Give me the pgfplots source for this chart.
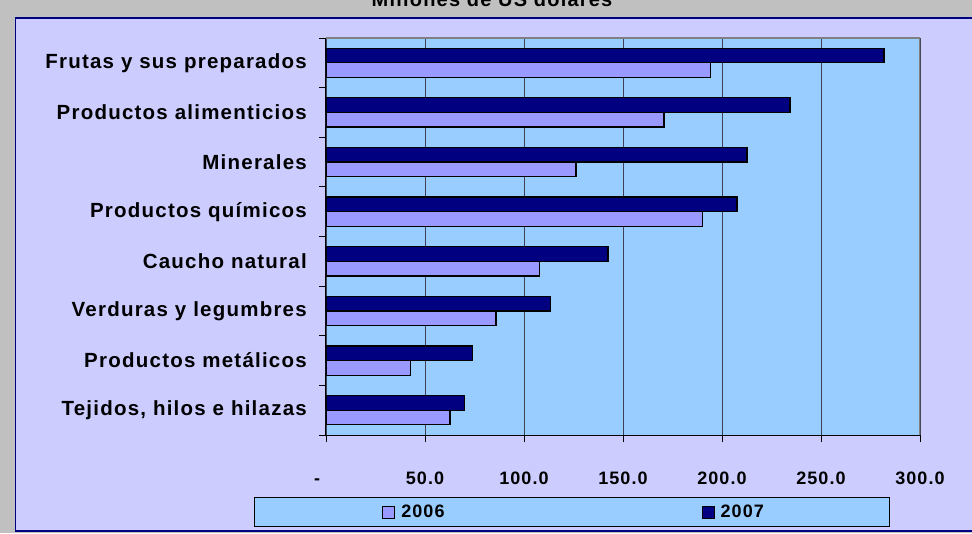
\documentclass[border=0pt]{standalone}
\usepackage{fontspec}
\setmainfont{Liberation Sans}
\newfontfamily\spaced[LetterSpace=6]{Liberation Sans}
\usepackage{pgfplots}
\pgfplotsset{compat=1.18}

\definecolor{outergrey}{HTML}{C0C0C0}
\definecolor{chartbg}{HTML}{CCCCFF}
\definecolor{plotbg}{HTML}{99CCFF}
\definecolor{navy}{HTML}{000080}
\definecolor{lilac}{HTML}{9999FF}
\definecolor{gridcol}{HTML}{404058}

\begin{document}
\begin{tikzpicture}[x=1pt,y=1pt]
\useasboundingbox (0,0) rectangle (972,533);
\clip (0,0) rectangle (972,533);
\fill[outergrey] (0,0) rectangle (972,533);
\node[font=\spaced\bfseries\fontsize{20}{24}\selectfont, anchor=base] at (492,526) {Millones de US dólares};
\filldraw[fill=chartbg, draw=navy, line width=1.5pt] (15.5,2) rectangle (990,515);
% legend box
\filldraw[fill=plotbg, draw=black, line width=0.8pt] (254,7) rectangle (889,36);

\begin{axis}[
    at={(326pt,98pt)}, anchor=south west,
    scale only axis, width=594pt, height=397pt,
    xbar, bar width=14.6pt,
    xmin=0, xmax=300, ymin=0.5, ymax=8.5,
    axis lines=left,
    axis line style={-, black, line width=1pt},
    axis background/.style={fill=plotbg},
    xtick={0,50,...,300},
    xticklabels={\makebox[0pt][r]{\vphantom{0}-\hspace*{6pt}},50.0,100.0,150.0,200.0,250.0,300.0},
    ytick={1,...,8},
    yticklabels={{Tejidos, hilos e hilazas},Productos metálicos,Verduras y legumbres,Caucho natural,Productos químicos,Minerales,Productos alimenticios,Frutas y sus preparados},
    minor ytick={0.5,1.5,...,8.5},
    tick align=outside,
    major tick length=7pt, minor tick length=7pt,
    major y tick style={draw=none},
    tick style={black, line width=0.9pt},
    xmajorgrids,
    grid style={gridcol, line width=0.9pt},
    xticklabel style={font=\spaced\bfseries\fontsize{18}{22}\selectfont, inner sep=0pt, yshift=-30pt},
    yticklabel style={font=\spaced\bfseries\fontsize{20.5}{24}\selectfont, inner sep=0pt, xshift=-12pt},
    legend style={at={(0.0943,-0.194)}, anchor=west, draw=none, fill=none, inner sep=0pt,
        font=\spaced\bfseries\fontsize{18}{22}\selectfont,
        /tikz/every even column/.append style={column sep=255pt}},
    legend columns=2,
    legend image code/.code={\draw[#1, line width=0.9pt] (0pt,-6pt) rectangle (12pt,6pt); \path (16pt,0pt);},
]
\addplot[fill=lilac, draw=black, line width=1.2pt, bar shift=-7.3pt] coordinates
{(62.6,1) (42.6,2) (85.9,3) (108,4) (190,5) (126.3,6) (170.7,7) (194,8)};
\addplot[fill=navy, draw=black, line width=1.2pt, bar shift=7.3pt] coordinates
{(69.8,1) (73.9,2) (113.5,3) (142.4,4) (207.6,5) (212.6,6) (234.3,7) (281.8,8)};
\legend{2006,2007}
\draw[gray, line width=2pt] (rel axis cs:0,1) -- (rel axis cs:1,1) -- (rel axis cs:1,0);
\end{axis}
\end{tikzpicture}
\end{document}
